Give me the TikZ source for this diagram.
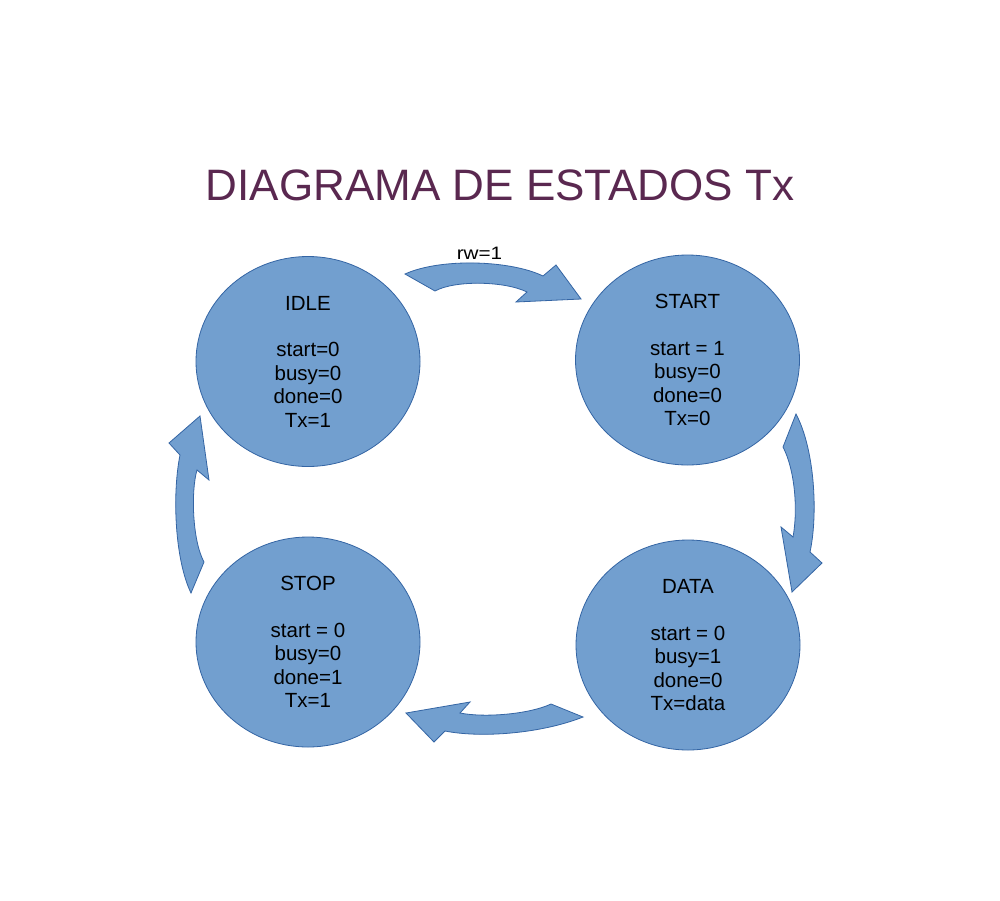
\documentclass[tikz,border=0pt]{standalone}
\usepackage{fontspec}
\setmainfont{Liberation Sans}
\usetikzlibrary{shapes.geometric}
\definecolor{stfill}{HTML}{729FCF}
\definecolor{stline}{HTML}{3465A4}
\definecolor{titlec}{RGB}{90,40,80}
\tikzset{
  state/.style={ellipse, draw=stline, line width=0.8pt, fill=stfill,
    minimum width=224pt, minimum height=210pt, inner sep=0pt,
    align=center, font=\fontsize{20.5}{23.4}\selectfont},
  blockarrow/.style={draw=stline, line width=0.8pt, fill=stfill, line join=miter},
}
\begin{document}
\begin{tikzpicture}[x=1pt,y=-1pt]
\useasboundingbox[fill=white] (0,0) rectangle (1000,900);

\node[anchor=base, text=titlec, font=\fontsize{44}{50}\selectfont] (title) at (500,200) {DIAGRAMA DE ESTADOS Tx};

\node[state] (idle) at (308,361.5) {IDLE\\[23.4pt]start=0\\busy=0\\done=0\\Tx=1};
\node[state] (start) at (687.5,360) {START\\[23.4pt]start = 1\\busy=0\\done=0\\Tx=0};
\node[state] (stop) at (308,642) {STOP\\[23.4pt]start = 0\\busy=0\\done=1\\Tx=1};
\node[state] (data) at (688,645) {DATA\\[23.4pt]start = 0\\busy=1\\done=0\\Tx=data};

% IDLE -> START
\draw[blockarrow] (405,274) .. controls (440,258) and (510,260) .. (543,276)
  -- (556,265) -- (581,299) -- (516,302) -- (527,292)
  .. controls (505,281) and (455,280) .. (435,291) -- cycle;
\node[anchor=base, font=\fontsize{18}{20}\selectfont] (rw) at (479.5,259.5) {\scalebox{1.15}[1]{rw=1}};

% START -> DATA
\draw[blockarrow] (796,414) .. controls (815,450) and (818,515) .. (810,552)
  -- (822,563) -- (792,592) -- (781,527) -- (793,537)
  .. controls (798,510) and (795,470) .. (783,447) -- cycle;

% DATA -> STOP
\draw[blockarrow] (583,717) -- (551,704)
  .. controls (530,714) and (485,718) .. (460,713)
  -- (470,702) -- (406,713) -- (434,742) -- (445,731)
  .. controls (480,738) and (540,734) .. (583,717) -- cycle;

% STOP -> IDLE
\draw[blockarrow] (191,593) .. controls (175,560) and (172,495) .. (180,455)
  -- (169,443) -- (200,416) -- (209,480) -- (197,470)
  .. controls (191,490) and (192,540) .. (204,562) -- cycle;
\end{tikzpicture}
\end{document}
